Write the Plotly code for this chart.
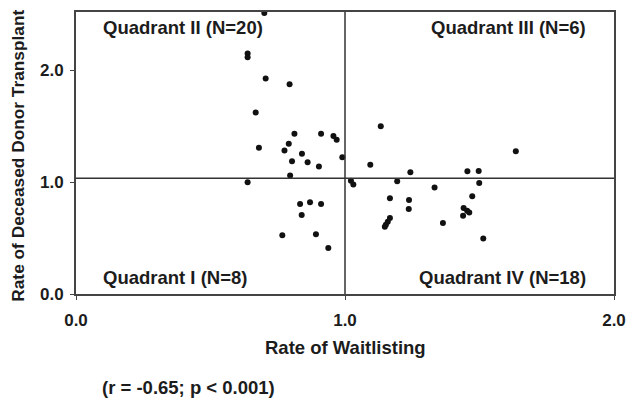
import plotly.graph_objects as go

# Data
waitlist_rate = [
    0.700, 0.638, 0.638, 0.705, 0.794, 0.668, 0.812, 0.911, 0.957, 0.969,
    0.680, 0.791, 0.775, 0.840, 0.803, 0.861, 0.903, 0.990, 0.796,
    0.638, 0.833, 0.870, 0.911, 0.839, 0.767, 0.892, 0.938,
    1.133, 1.635, 1.094, 1.243, 1.455, 1.497,
    1.022, 1.031, 1.194, 1.499, 1.333, 1.167, 1.238, 1.473, 1.237,
    1.441, 1.454, 1.462, 1.439, 1.167, 1.159, 1.152, 1.148, 1.364, 1.514,
]
transplant_rate = [
    2.510, 2.150, 2.115, 1.925, 1.875, 1.623, 1.432, 1.432, 1.411, 1.378,
    1.307, 1.343, 1.283, 1.253, 1.187, 1.178, 1.139, 1.222, 1.058,
    0.998, 0.804, 0.819, 0.804, 0.706, 0.526, 0.535, 0.410,
    1.498, 1.276, 1.154, 1.088, 1.097, 1.100,
    1.013, 0.978, 1.007, 0.993, 0.951, 0.855, 0.840, 0.873, 0.760,
    0.769, 0.744, 0.729, 0.700, 0.679, 0.646, 0.619, 0.601, 0.634, 0.496,
]

tick_vals = [0, 1, 2]
tick_text = ["0.0", "1.0", "2.0"]
x_divider = 1.0
y_divider = 1.035
quadrant_labels = ["Quadrant II (N=20)", "Quadrant III (N=6)",
                   "Quadrant I (N=8)", "Quadrant IV (N=18)"]
x_title = "Rate of Waitlisting"
y_title = "Rate of Deceased Donor Transplant"
stats_text = "(r = -0.65; p < 0.001)"

FONT = "Liberation Sans, Arial, sans-serif"
TXT = "#1c1c1c"

fig = go.Figure()
fig.add_trace(go.Scatter(
    x=waitlist_rate, y=transplant_rate, mode="markers",
    marker=dict(color="#111111", size=6, line=dict(width=0)),
    showlegend=False, hoverinfo="skip",
))

# quadrant dividers
fig.add_shape(type="line", xref="x", yref="paper", x0=x_divider, x1=x_divider,
              y0=0, y1=1, line=dict(color="#333333", width=1.5))
fig.add_shape(type="line", xref="paper", yref="y", x0=0, x1=1,
              y0=y_divider, y1=y_divider, line=dict(color="#333333", width=1.5))

afont = dict(family=FONT, size=18.5, color=TXT, weight="bold")
yfont = dict(family=FONT, size=17.3, color=TXT, weight="bold")
fig.add_annotation(x=0.093, y=2.386, xref="x", yref="y", text=quadrant_labels[0],
                   showarrow=False, xanchor="left", yanchor="middle", font=afont)
fig.add_annotation(x=1.903, y=2.386, xref="x", yref="y", text=quadrant_labels[1],
                   showarrow=False, xanchor="right", yanchor="middle", font=afont)
fig.add_annotation(x=0.093, y=0.144, xref="x", yref="y", text=quadrant_labels[2],
                   showarrow=False, xanchor="left", yanchor="middle", font=afont)
fig.add_annotation(x=1.903, y=0.144, xref="x", yref="y", text=quadrant_labels[3],
                   showarrow=False, xanchor="right", yanchor="middle", font=afont)

# axis titles and stats
fig.add_annotation(x=0.5, y=-0.19, xref="paper", yref="paper", text=x_title,
                   showarrow=False, xanchor="center", yanchor="middle", font=afont)
fig.add_annotation(x=-0.108, y=0.49, xref="paper", yref="paper", text=y_title,
                   showarrow=False, xanchor="center", yanchor="middle",
                   textangle=-90, font=yfont)
fig.add_annotation(x=0.044, y=-0.333, xref="paper", yref="paper", text=stats_text,
                   showarrow=False, xanchor="left", yanchor="middle", font=afont)

tfont = dict(family=FONT, size=17, color=TXT, weight="bold")
fig.update_xaxes(range=[0, 2], tickvals=tick_vals, ticktext=tick_text,
                 showgrid=False, zeroline=False, showline=True, mirror=True,
                 linecolor="#444444", linewidth=2, ticks="outside", ticklen=4,
                 tickcolor="#444444", tickwidth=1, tickfont=tfont,
                 ticklabelstandoff=6, automargin=False)
fig.update_yaxes(range=[0, 2.52], tickvals=tick_vals, ticktext=tick_text,
                 showgrid=False, zeroline=False, showline=True, mirror=True,
                 linecolor="#444444", linewidth=2, ticks="outside", ticklen=4,
                 tickcolor="#444444", tickwidth=1, tickfont=tfont,
                 ticklabelstandoff=3, automargin=False)

fig.update_layout(
    width=626, height=400,
    margin=dict(l=76, r=12, t=12, b=106, autoexpand=False),
    paper_bgcolor="white", plot_bgcolor="white",
    font=dict(family=FONT, color=TXT),
)

fig.write_html("out.html")
